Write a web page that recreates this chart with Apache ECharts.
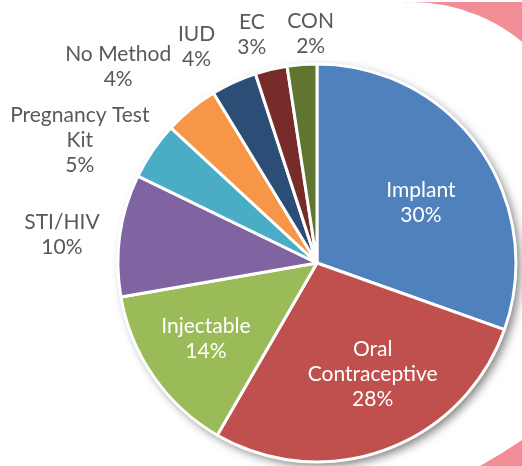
<!DOCTYPE html>
<html>
<head>
<meta charset="utf-8">
<script src="https://cdn.jsdelivr.net/npm/echarts@6/dist/echarts.min.js"></script>
<style>
    html, body { margin: 0; padding: 0; background: #fff; }
    #pieChart { width: 522px; height: 466px; }
</style>
</head>
<body>
<div id="pieChart"></div>
<script>
// 分类名称
const categories = ['Implant', 'Oral\nContraceptive', 'Injectable', 'STI/HIV', 'Pregnancy Test\nKit', 'No Method', 'IUD', 'EC', 'CON'];
// 各分类占比（按图中扇区角度估计）
const shares = [30.4, 27.9, 13.9, 9.9, 4.7, 4.4, 3.7, 2.6, 2.4];
// 扇区颜色
const colors = ['#4f81bd', '#c0504d', '#9bbb59', '#8064a2', '#4bacc6', '#f79646', '#2c4d75', '#772c2a', '#5f7530'];
// 标签是否在扇区内部
const labelInside = [true, true, true, false, false, false, false, false, false];
// 标签锚点：径向偏移 / 水平偏移
const labelLen = [-95, -81, -66, 2, 18, 55, 39, 36, 31];
const labelLen2 = [19, 15, 2, 56, 58, 38, 21, 11, -11];

const pink = '#f38d95';

let chart = echarts.init(document.getElementById('pieChart'));

let data = categories.map(function (name, i) {
    return {
        name: name,
        value: shares[i],
        itemStyle: { color: colors[i] },
        label: { color: labelInside[i] ? '#ffffff' : '#595959' },
        labelLine: { length: labelLen[i], length2: labelLen2[i] }
    };
});

let option = {
    animation: false,
    graphic: [
        // 右上角粉色装饰
        { type: 'rect', shape: { x: 405, y: 2, width: 117, height: 60 }, style: { fill: pink } },
        { type: 'circle', shape: { cx: 411, cy: 177, r: 175 }, style: { fill: '#fff' } },
        // 右下角粉色装饰
        { type: 'polygon', shape: { points: [[480, 466], [502, 453], [522, 440], [522, 466]] }, style: { fill: pink } }
    ],
    series: [
        {
            // 饼图底部阴影
            type: 'pie',
            silent: true,
            center: [317, 263],
            radius: 199,
            label: { show: false },
            labelLine: { show: false },
            emphasis: { disabled: true },
            itemStyle: {
                color: '#fff',
                shadowBlur: 10,
                shadowOffsetX: 4,
                shadowOffsetY: 4,
                shadowColor: 'rgba(0,0,0,0.5)'
            },
            data: [{ value: 1 }]
        },
        {
            type: 'pie',
            center: [317, 263],
            radius: 199,
            startAngle: 90,
            clockwise: true,
            avoidLabelOverlap: false,
            emphasis: { disabled: true },
            itemStyle: { borderColor: '#fff', borderWidth: 3 },
            label: {
                show: true,
                position: 'outside',
                distanceToLabelLine: 0,
                fontFamily: 'Lato',
                fontSize: 21,
                lineHeight: 25,
                formatter: function (p) {
                    return p.name + '\n' + Math.round(p.percent) + '%';
                }
            },
            labelLine: { show: false },
            labelLayout: function () {
                return { align: 'center', verticalAlign: 'middle' };
            },
            data: data
        }
    ]
};
chart.setOption(option);
</script>
</body>
</html>
